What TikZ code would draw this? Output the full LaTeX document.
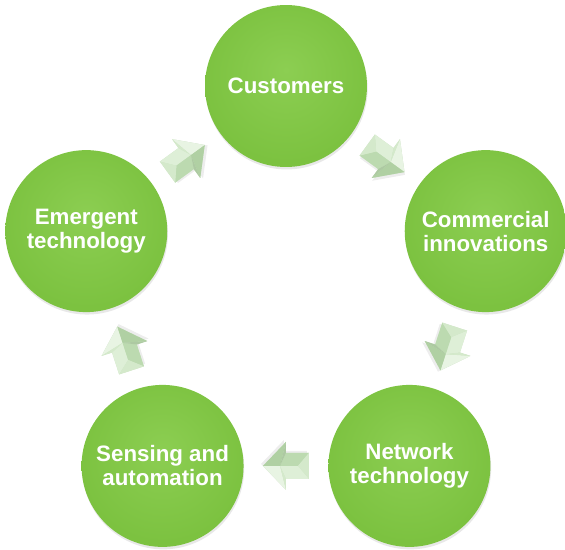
\documentclass[tikz,border=0pt]{standalone}
\usepackage{fontspec}
\setmainfont{Liberation Sans}
\usetikzlibrary{calc,shadows}

\definecolor{leaflite}{RGB}{140,206,82}
\definecolor{leafmid}{RGB}{124,194,64}
\definecolor{leafedge}{RGB}{100,170,48}
\definecolor{mintbase}{RGB}{204,229,194}
\definecolor{minttop}{RGB}{222,239,215}
\definecolor{mintlow}{RGB}{188,218,176}
\definecolor{mintside}{RGB}{212,233,203}
\definecolor{mintlite}{RGB}{232,244,227}
\definecolor{mintdark}{RGB}{176,208,163}

\pgfdeclareradialshading{leafball}{\pgfpoint{0bp}{5bp}}{%
  color(0bp)=(leaflite); color(26bp)=(leafmid); color(44bp)=(leafmid); color(52bp)=(leafedge)}

\tikzset{
  bubble/.style={circle, minimum size=3.24cm, inner sep=0pt, shading=leafball,
    text=white, align=center, font=\fontsize{12.7}{13.6}\selectfont\bfseries,
    drop shadow={opacity=0.18, shadow xshift=0.4pt, shadow yshift=-1.4pt}},
  pics/cyclearrow/.style={code={
    % faint shadow under the arrow
    \fill[black, opacity=0.07] (-21,11) -- (2,11) -- (2,22) -- (25,-2) -- (2,-26) -- (2,-15) -- (-21,-15) -- cycle;
    \fill[mintbase] (-23,13) -- (0,13) -- (0,24) -- (23,0) -- (0,-24) -- (0,-13) -- (-23,-13) -- cycle;
    % bevelled faces
    \fill[minttop] (-23,13) -- (0,13) -- (6,0) -- (-12,0) -- cycle;
    \fill[mintlow] (-23,-13) -- (0,-13) -- (6,0) -- (-12,0) -- cycle;
    \fill[mintside] (-23,13) -- (-12,0) -- (-23,-13) -- cycle;
    \fill[mintlite] (0,24) -- (23,0) -- (6,0) -- cycle;
    \fill[mintdark] (0,-24) -- (23,0) -- (6,0) -- cycle;
    \fill[mintside] (0,13) -- (0,24) -- (6,0) -- cycle;
    \fill[mintlow!92!black] (0,-13) -- (0,-24) -- (6,0) -- cycle;
  }}
}

\begin{document}
\begin{tikzpicture}[x=0.02cm, y=0.02cm]
  \fill[white] (-286,-253) rectangle (279,296);
  \useasboundingbox (-286,-253) rectangle (279,296);

  % the five stages, clockwise from the top
  \foreach \name/\ang/\txt in {cust/90/Customers, comm/18/{Commercial\\innovations},
      net/-54/{Network\\technology}, sens/-126/{Sensing and\\automation},
      emer/162/{Emergent\\technology}}{
    \node[bubble] (\name) at (\ang:210) {\txt};
  }

  % arrows half way between neighbours
  \foreach \a/\b/\ang in {cust/comm/90, comm/net/18, net/sens/-54, sens/emer/-126, emer/cust/162}{
    \pgfmathsetmacro\rot{\ang-126}
    \pic[rotate=\rot] at ($(\a)!0.5!(\b)$) {cyclearrow};
  }
\end{tikzpicture}
\end{document}
